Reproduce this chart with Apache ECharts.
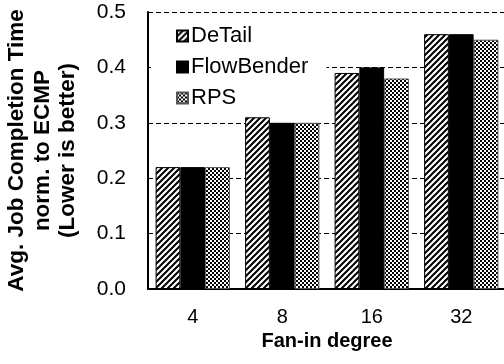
<!DOCTYPE html>
<html>
<head>
<meta charset="utf-8">
<script src="https://cdn.jsdelivr.net/npm/echarts@6/dist/echarts.min.js"></script>
<style>
  html, body { margin: 0; padding: 0; background: #fff; }
  #chart { width: 504px; height: 364px; }
</style>
</head>
<body>
<div id="chart"></div>
<script>
// data
const fanIn = ['4', '8', '16', '32'];
const detail = [0.22, 0.31, 0.39, 0.46];
const flowBender = [0.22, 0.30, 0.40, 0.46];
const rps = [0.22, 0.30, 0.38, 0.45];
const yTicks = [0, 0.1, 0.2, 0.3, 0.4, 0.5];

// fill patterns
function hatchPattern() {
  const c = document.createElement('canvas');
  c.width = 6; c.height = 6;
  const ctx = c.getContext('2d');
  ctx.fillStyle = '#fff';
  ctx.fillRect(0, 0, 6, 6);
  ctx.strokeStyle = '#000';
  ctx.lineWidth = 2;
  ctx.beginPath();
  ctx.moveTo(-1, 7); ctx.lineTo(7, -1);
  ctx.moveTo(-1, 1); ctx.lineTo(1, -1);
  ctx.moveTo(5, 7); ctx.lineTo(7, 5);
  ctx.stroke();
  return c;
}
function checkerPattern() {
  const c = document.createElement('canvas');
  c.width = 4; c.height = 4;
  const ctx = c.getContext('2d');
  ctx.fillStyle = '#fff';
  ctx.fillRect(0, 0, 4, 4);
  ctx.fillStyle = '#000';
  ctx.fillRect(0, 0, 2, 2);
  ctx.fillRect(2, 2, 2, 2);
  return c;
}

const chart = echarts.init(document.getElementById('chart'));
const font = '"Liberation Sans", Arial, sans-serif';

const option = {
  animation: false,
  textStyle: { fontFamily: font, color: '#000' },
  grid: { left: 148, right: -2, top: 12, bottom: 75, outerBoundsMode: 'none', containLabel: false },
  legend: {
    orient: 'vertical',
    left: 151,
    top: 19,
    padding: [6, 18, 8, 25],
    backgroundColor: '#fff',
    itemWidth: 11,
    itemHeight: 11,
    itemGap: 9,
    icon: 'rect',
    textStyle: { fontSize: 22, color: '#000', fontFamily: font, padding: [0, 0, 0, -2] }
  },
  xAxis: {
    type: 'category',
    data: fanIn,
    name: 'Fan-in degree',
    nameLocation: 'middle',
    nameGap: 40,
    nameTextStyle: { fontSize: 20, fontWeight: 'bold', color: '#000', fontFamily: font },
    axisLine: { lineStyle: { color: '#000', width: 2 } },
    axisTick: { show: false },
    axisLabel: { fontSize: 20, color: '#000', margin: 18, fontFamily: font }
  },
  yAxis: {
    type: 'value',
    min: yTicks[0],
    max: yTicks[yTicks.length - 1],
    interval: 0.1,
    name: 'Avg. Job Completion Time\nnorm. to ECMP\n(Lower is better)',
    nameLocation: 'middle',
    nameGap: 67,
    nameTextStyle: { fontSize: 22.5, fontWeight: 'bold', color: '#000', lineHeight: 25.5, fontFamily: font },
    axisLine: { show: true, lineStyle: { color: '#000', width: 2 } },
    axisTick: { show: true, inside: true, length: 4, lineStyle: { color: '#000' } },
    axisLabel: {
      fontSize: 21, color: '#000', margin: 22, fontFamily: font,
      formatter: v => v.toFixed(1)
    },
    splitLine: { lineStyle: { color: '#000', type: [5, 3], width: 1 } }
  },
  series: [
    {
      name: 'DeTail', type: 'bar', data: detail,
      barGap: '0%', barCategoryGap: '17%',
      itemStyle: { color: { image: hatchPattern(), repeat: 'repeat' }, borderColor: '#000', borderWidth: 1 }
    },
    {
      name: 'FlowBender', type: 'bar', data: flowBender,
      itemStyle: { color: '#000', borderColor: '#000', borderWidth: 1 }
    },
    {
      name: 'RPS', type: 'bar', data: rps,
      itemStyle: { color: { image: checkerPattern(), repeat: 'repeat' }, borderColor: '#555', borderWidth: 1 }
    }
  ]
};
chart.setOption(option);
</script>
</body>
</html>
